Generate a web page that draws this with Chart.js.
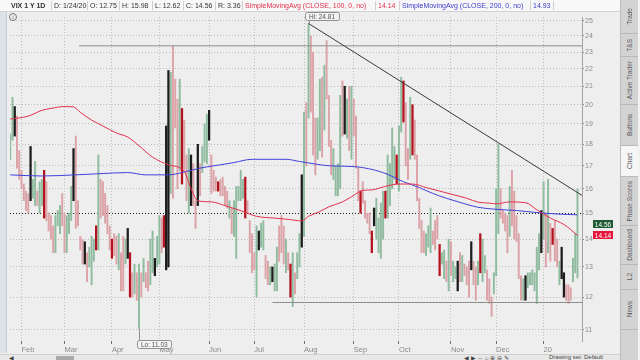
<!DOCTYPE html>
<html>
<head>
<meta charset="utf-8">
<script src="https://cdn.jsdelivr.net/npm/chart.js@4.4.1/dist/chart.umd.min.js"></script>
<style>
  html, body { margin: 0; padding: 0; background: #eeeeee; }
  body { width: 640px; height: 360px; overflow: hidden; position: relative; font-family: "Liberation Sans", Arial, sans-serif; }
  #chart { position: absolute; left: 0; top: 0; background: #eeeeee; }
  #header { position: absolute; left: 0; top: 0; width: 620px; height: 11px; background: #f8f8f8; border-bottom: 1px solid #d2d2d2; font-size: 7px; color: #333; }
  #header span { position: absolute; top: 2px; white-space: nowrap; line-height: 8px; }
  #header i { position: absolute; top: 1px; width: 1px; height: 9px; background: #d0d0d0; }
  #leftbar { position: absolute; left: 0; top: 12px; width: 6px; height: 341px; background: #dde2e8; border-right: 1px solid #c9ced4; }
  #info { position: absolute; left: 9px; top: 13px; width: 6px; height: 6px; border: 1px solid #777; border-radius: 50%; font-size: 5px; line-height: 6px; text-align: center; color: #555; }
  #side { position: absolute; left: 620px; top: 0; width: 17px; height: 360px; background: #d3d3d3; border-left: 1px solid #bcbcbc; }
  #edge { position: absolute; left: 638px; top: 0; width: 2px; height: 360px; background: #f2f2f2; }
  .tab { position: absolute; left: 0; width: 17px; border-bottom: 1px solid #b9b9b9; display: flex; align-items: center; justify-content: center; }
  .tab span { writing-mode: vertical-rl; transform: rotate(180deg); font-size: 6.5px; color: #5a5a5a; white-space: nowrap; }
  .tab.on { background: #f6f6f6; }
  #bottom { position: absolute; left: 0; top: 354px; width: 620px; height: 6px; background: #e8e8e8; border-top: 1px solid #d0d0d0; font-size: 6px; color: #444; }
  #bottom span { position: absolute; top: -1px; white-space: nowrap; }
  #thumb { position: absolute; left: 56px; top: 1px; width: 18px; height: 4px; background: #a9a9a9; }
</style>
</head>
<body>
<canvas id="chart" width="620" height="360"></canvas>
<div id="leftbar"></div>
<div id="header">
  <span style="left:11px;font-weight:bold">VIX 1 Y 1D</span><i style="left:51px"></i>
  <span style="left:54px">D: 1/24/20</span><i style="left:87px"></i>
  <span style="left:90px">O: 12.75</span><i style="left:119px"></i>
  <span style="left:122px">H: 15.98</span><i style="left:152px"></i>
  <span style="left:155px">L: 12.62</span><i style="left:183px"></i>
  <span style="left:186px">C: 14.56</span><i style="left:215px"></i>
  <span style="left:218px">R: 3.36</span><i style="left:242px"></i>
  <span style="left:245px;color:#e0304a">SimpleMovingAvg (CLOSE, 100, 0, no)</span><i style="left:375px"></i>
  <span style="left:378px;color:#e0304a">14.14</span><i style="left:399px"></i>
  <span style="left:402px;color:#3c3cd0">SimpleMovingAvg (CLOSE, 200, 0, no)</span><i style="left:530px"></i>
  <span style="left:533px;color:#3c3cd0">14.93</span><i style="left:553px"></i>
</div>
<div id="info">i</div>
<div id="side">
  <div class="tab" style="top:0;height:33px"><span>Trade</span></div>
  <div class="tab" style="top:34px;height:22px"><span>T&amp;S</span></div>
  <div class="tab" style="top:57px;height:47px"><span>Active Trader</span></div>
  <div class="tab" style="top:105px;height:40px"><span>Buttons</span></div>
  <div class="tab on" style="top:146px;height:30px"><span>Chart</span></div>
  <div class="tab" style="top:177px;height:48px"><span>Phase Scores</span></div>
  <div class="tab" style="top:226px;height:38px"><span>Dashboard</span></div>
  <div class="tab" style="top:265px;height:24px"><span>L2</span></div>
  <div class="tab" style="top:290px;height:39px"><span>News</span></div>
</div>
<div id="edge"></div>
<div id="bottom">
  <span style="left:9px">&#9664;</span>
  <div id="thumb"></div>
  <span style="left:464px">&#9664; &#9654; &#8660; &#8962; &#8853; &#8854; &#9998;</span>
  <span style="left:549px">Drawing set: Default</span>
</div>
<script>
// VIX daily bars, 25 Jan 2019 .. 24 Jan 2020 (index = trading day)
const monthIdx = [5, 24, 45, 66, 88, 108, 130, 152, 172, 195, 215, 236];
const monthLabels = ["Feb", "Mar", "Apr", "May", "Jun", "Jul", "Aug", "Sep", "Oct", "Nov", "Dec", "20"];
const yTicks = [11, 12, 13, 14, 15, 16, 17, 18, 19, 20, 21, 22, 23, 24, 25];

const lows = [
  17.3, 18.2, 18.4, 16.9, 16.4, 16.0, 15.5, 15.1, 15.0, 15.5,
  15.6, 15.3, 15.3, 15.0, 15.3, 14.8, 14.7, 14.3, 14.0, 13.5,
  13.5, 14.5, 14.2, 14.5, 13.5, 13.5, 14.2, 14.7, 15.5, 14.4,
  14.5, 13.6, 13.1, 13.1, 12.5, 13.0, 12.4, 13.2, 13.6, 13.6,
  14.8, 14.9, 14.6, 14.2, 13.6, 13.3, 13.4, 13.1, 12.9, 12.2,
  12.2, 13.1, 13.3, 12.0, 12.0, 12.1, 11.9, 11.03, 12.0, 12.5,
  12.3, 12.2, 12.4, 12.8, 12.7, 13.0, 13.1, 13.5, 13.7, 12.9,
  13.0, 15.8, 15.6, 18.8, 16.0, 16.8, 16.2, 16.8, 15.5, 15.0,
  15.3, 15.3, 14.4, 15.3, 15.7, 16.7, 17.2, 17.1, 18.2, 15.8,
  15.9, 15.9, 15.9, 15.7, 15.7, 15.3, 15.2, 14.8, 14.2, 14.1,
  13.3, 15.5, 15.5, 15.6, 14.8, 15.0, 13.5, 12.8, 12.9, 12.0,
  13.6, 13.7, 13.6, 12.6, 12.4, 12.4, 12.5, 12.2, 12.2, 13.2,
  13.5, 13.1, 12.8, 12.9, 12.0, 11.7, 12.1, 12.6, 13.0, 13.7,
  14.1, 17.0, 19.3, 19.6, 17.5, 16.6, 17.3, 17.7, 17.4, 18.7,
  20.3, 17.9, 16.6, 16.4, 15.7, 15.7, 16.0, 18.4, 18.5, 18.3,
  17.7, 17.3, 18.4, 16.9, 15.5, 15.0, 15.4, 14.8, 14.6, 14.2,
  13.5, 14.5, 14.0, 13.5, 13.3, 14.0, 14.8, 14.8, 15.3, 16.0,
  16.4, 16.2, 15.9, 18.6, 19.1, 17.0, 16.4, 17.3, 17.5, 17.3,
  15.5, 14.4, 13.5, 13.5, 13.4, 13.7, 13.5, 13.8, 13.6, 14.0,
  12.7, 13.1, 12.6, 12.5, 12.2, 12.7, 12.5, 12.6, 12.2, 12.5,
  12.5, 12.7, 12.4, 12.0, 12.9, 12.4, 11.9, 12.4, 12.8, 12.5,
  12.8, 11.9, 11.8, 11.4, 12.1, 12.7, 14.2, 14.8, 14.6, 14.3,
  13.5, 14.1, 14.5, 14.0, 13.9, 12.6, 11.9, 11.9, 11.9, 12.3,
  12.4, 12.4, 12.2, 11.8, 12.9, 13.5, 14.0, 13.0, 13.5, 13.2,
  13.8, 13.2, 13.0, 12.4, 12.6, 12.0, 11.9, 11.8, 11.9, 12.5,
  12.8, 12.62
];
const highs = [
  18.5, 20.4, 19.9, 19.4, 17.7, 16.8, 16.2, 15.9, 15.8, 17.9,
  16.4, 17.2, 15.9, 16.3, 16.4, 16.8, 16.3, 15.0, 14.9, 14.5,
  14.9, 15.1, 15.3, 15.8, 15.0, 14.9, 15.0, 16.1, 17.8, 18.4,
  15.5, 14.1, 14.0, 13.9, 13.5, 13.7, 14.1, 14.0, 14.5, 17.5,
  16.4, 16.3, 15.8, 15.3, 14.5, 14.0, 14.2, 14.1, 14.2, 13.5,
  14.1, 14.0, 14.4, 13.5, 12.8, 13.1, 12.8, 13.1, 12.8, 13.3,
  12.8, 13.2, 14.0, 14.3, 13.3, 14.1, 14.9, 14.8, 14.9, 18.9,
  21.9, 21.8, 23.38, 21.4, 20.3, 21.4, 19.8, 19.2, 17.5, 17.8,
  17.5, 17.1, 15.5, 18.0, 17.1, 17.9, 19.0, 19.5, 19.7, 17.5,
  16.8, 16.5, 16.3, 16.4, 16.5, 16.1, 15.9, 15.5, 15.2, 15.5,
  16.1, 16.1, 16.8, 16.4, 16.5, 15.5, 14.7, 14.2, 13.5, 14.5,
  14.3, 14.6, 14.7, 13.4, 13.2, 13.0, 13.0, 13.1, 13.7, 14.5,
  14.9, 14.5, 14.0, 13.5, 13.1, 13.5, 12.8, 13.5, 14.2, 16.6,
  19.6, 20.1, 24.81, 24.0, 23.0, 19.3, 19.3, 21.4, 21.5, 22.2,
  23.7, 20.5, 18.2, 17.8, 17.0, 17.1, 20.5, 21.3, 21.0, 20.3,
  21.0, 21.0, 20.3, 19.4, 16.9, 15.9, 16.3, 15.5, 15.0, 15.0,
  14.3, 15.2, 15.6, 14.8, 15.4, 15.9, 15.9, 17.5, 17.1, 18.8,
  17.9, 17.5, 18.9, 21.5, 21.3, 20.1, 17.8, 20.4, 20.0, 19.2,
  17.5, 15.6, 14.7, 14.3, 14.2, 14.5, 15.2, 14.3, 14.7, 14.9,
  13.8, 13.5, 13.6, 13.2, 14.0, 13.9, 13.2, 13.0, 13.2, 13.5,
  13.4, 13.1, 13.0, 13.2, 13.9, 13.2, 13.0, 13.2, 14.2, 14.0,
  13.4, 12.9, 12.6, 12.0, 12.8, 16.0, 18.0, 16.0, 15.1, 15.0,
  14.9, 16.1, 16.8, 15.9, 14.9, 14.2, 12.7, 12.6, 12.7, 12.8,
  12.8, 12.9, 12.8, 13.7, 14.2, 15.1, 16.3, 15.0, 16.4, 14.6,
  14.4, 14.7, 14.0, 13.2, 13.7, 12.8, 12.4, 12.4, 12.3, 13.3,
  14.2, 15.98
];
// g = light green, r = light red, k = black, d = dark red
const barTones = (
  "ggkrr rrrrk ggrgg drrrr gggrr gggkr rrrkr gggdg rrrrr drrgr " +
  "rgkdr grgrg rrggk ggrdk kgrrr gdrrg krrkr gggkr rrdrr rrgrg " +
  "ggggd rrrrg kggrr gkggr rrgrd grggk grgrr rggrg rrrgg ggrkg " +
  "rgrrr drrrr dkggg gdggg gdggd rrgdr rrrrg ggrrr dggrg rggkr " +
  "grrrk rrgdg grrrg ggrrr rgrrr rrgkg ggggg kgrgr drrgk krrrg gg"
).replace(/ /g, "");

const sma100Idx = [0, 8, 14, 18, 24, 28, 31, 36, 41, 47, 52, 57, 63, 70, 77, 80, 83, 89, 95, 103,
  109, 117, 123, 129, 132, 137, 141, 147, 151, 156, 160, 166, 172, 178, 184, 190, 196, 202, 207,
  212, 215, 221, 228, 233, 239, 245, 251];
const sma100 = [19.25, 19.4, 19.7, 19.8, 19.9, 19.88, 19.6, 19.2, 18.9, 18.55, 18.35, 17.93, 17.4,
  17.05, 16.75, 16.0, 15.5, 15.45, 15.3, 15.06, 14.87, 14.8, 14.75, 14.69, 14.87, 15.06, 15.25,
  15.45, 15.66, 15.93, 15.95, 16.1, 16.2, 16.2, 16.05, 15.9, 15.75, 15.6, 15.44, 15.4, 15.37,
  15.45, 15.42, 15.13, 14.8, 14.55, 14.14];
const sma200Idx = [0, 14, 29, 39, 52, 60, 70, 78, 84, 93, 99, 107, 122, 128, 142, 152, 165, 174,
  181, 187, 193, 199, 207, 215, 224, 233, 242, 251];
const sma200 = [16.6, 16.55, 16.6, 16.65, 16.7, 16.6, 16.6, 16.75, 16.9, 17.05, 17.15, 17.3, 17.3,
  17.2, 17.0, 16.97, 16.7, 16.3, 16.05, 15.8, 15.6, 15.43, 15.23, 15.15, 15.1, 15.02, 14.96, 14.93];

const lastClose = 14.56;
const hiLevel = 23.38, hiLevelFrom = 30.5;
const loLevel = 11.83, loLevelFrom = 116;
const trendIdx = [132, 253];
const trendVals = [24.81, 15.72];
const xMax = 253;

const toneColors = { g: "#8fbb9f", r: "#dba3a7", k: "#1c1c1c", d: "#b5121f" };
const FONT = '"Liberation Sans", Arial, sans-serif';
Chart.defaults.font.family = FONT;

const lightBars = [];
const darkBars = [];
lows.forEach((lo, i) => {
  const pt = { x: i, y: [lo, highs[i]] };
  if (barTones[i] === "g" || barTones[i] === "r") lightBars.push(pt);
  else darkBars.push(pt);
});

const toPoints = (xs, ys) => xs.map((x, k) => ({ x: x, y: ys[k] }));

function drawTag(ctx, text, left, top, px, py, below) {
  const w = Math.ceil(ctx.measureText(text).width) + 7;
  const h = 8;
  ctx.strokeStyle = "#8f8f8f";
  ctx.lineWidth = 1;
  ctx.beginPath();
  if (below) { ctx.moveTo(px + 0.5, top); ctx.lineTo(px + 0.5, py); }
  else { ctx.moveTo(px + 0.5, top + h); ctx.lineTo(px + 0.5, py); }
  ctx.stroke();
  ctx.fillStyle = "#f3f3f3";
  ctx.beginPath();
  ctx.roundRect(left + 0.5, top + 0.5, w, h, 2);
  ctx.fill();
  ctx.stroke();
  ctx.fillStyle = "#555";
  ctx.textAlign = "left";
  ctx.fillText(text, left + 4, top + 4.8);
}

function priceTag(ctx, text, py, color) {
  ctx.fillStyle = color;
  ctx.fillRect(593, Math.round(py - 4), 20, 8);
  ctx.fillStyle = "#fff";
  ctx.textAlign = "center";
  ctx.fillText(text, 603, py + 0.5);
}

const markers = {
  id: "markers",
  afterDraw(chart) {
    const { ctx, scales: { x, y } } = chart;
    const hiI = highs.indexOf(Math.max(...highs));
    const loI = lows.indexOf(Math.min(...lows));
    ctx.save();
    ctx.font = "6.5px " + FONT;
    ctx.textBaseline = "middle";
    const hx = Math.round(x.getPixelForValue(hiI));
    drawTag(ctx, "Hi: " + highs[hiI].toFixed(2), hx - 4, 12, hx, y.getPixelForValue(highs[hiI]), false);
    const lx = Math.round(x.getPixelForValue(loI));
    drawTag(ctx, "Lo: " + lows[loI].toFixed(2), lx - 2, 340, lx, y.getPixelForValue(lows[loI]), true);
    priceTag(ctx, lastClose.toFixed(2), y.getPixelForValue(lastClose), "#1e5a34");
    const lastSma = sma100[sma100.length - 1];
    priceTag(ctx, lastSma.toFixed(2), y.getPixelForValue(lastSma), "#e5163a");
    ctx.restore();
  }
};

new Chart(document.getElementById("chart"), {
  type: "bar",
  data: {
    datasets: [
      { type: "line", data: toPoints(trendIdx, trendVals), borderColor: "#3a3a3a", borderWidth: 1, pointRadius: 0, order: 0 },
      { type: "line", data: toPoints(sma100Idx, sma100), borderColor: "#e0304a", borderWidth: 1, pointRadius: 0, cubicInterpolationMode: "monotone", order: 0 },
      { type: "line", data: toPoints(sma200Idx, sma200), borderColor: "#4040dc", borderWidth: 1, pointRadius: 0, cubicInterpolationMode: "monotone", order: 0 },
      { type: "line", data: [{ x: hiLevelFrom, y: hiLevel }, { x: xMax, y: hiLevel }], borderColor: "#8c8c8c", borderWidth: 1, pointRadius: 0, order: 0 },
      { type: "line", data: [{ x: loLevelFrom, y: loLevel }, { x: xMax, y: loLevel }], borderColor: "#8c8c8c", borderWidth: 1, pointRadius: 0, order: 0 },
      { data: darkBars, backgroundColor: c => c.raw ? toneColors[barTones[c.raw.x]] : "#111", barThickness: 1.6, grouped: false, order: 1 },
      { data: lightBars, backgroundColor: c => c.raw ? toneColors[barTones[c.raw.x]] : "#888", barThickness: 1.3, grouped: false, order: 2 }
    ]
  },
  options: {
    responsive: false,
    animation: false,
    devicePixelRatio: 1,
    events: [],
    layout: { padding: { left: 10, top: 17, right: 0, bottom: 0 } },
    plugins: { legend: { display: false }, tooltip: { enabled: false } },
    scales: {
      x: {
        type: "linear",
        min: -0.1,
        max: xMax,
        offset: false,
        afterBuildTicks: s => { s.ticks = monthIdx.map(v => ({ value: v })); },
        afterFit: s => { s.height = 19; },
        ticks: {
          autoSkip: false, maxRotation: 0, align: "start", padding: 1,
          color: "#8a8a8a", font: { size: 7.5 },
          callback: v => monthLabels[monthIdx.indexOf(v)]
        },
        grid: { color: "#bdbdbd", offset: false, tickLength: 3, tickColor: "#6f6f6f" },
        border: { display: false, dash: [1, 2] }
      },
      y: {
        type: "logarithmic",
        position: "right",
        min: 10.68,
        max: 25.24,
        beginAtZero: false,
        afterBuildTicks: s => { s.ticks = yTicks.map(v => ({ value: v })); },
        afterFit: s => { s.width = 38; },
        ticks: { color: "#8a8a8a", font: { size: 7 }, padding: 1, callback: v => String(v) },
        grid: {
          color: c => (c.tick && c.tick.value === 15 ? "#1c1c1c" : "#bdbdbd"),
          tickLength: 2, tickColor: "#8a8a8a"
        },
        border: { display: true, color: "#a3a3a3", dash: [1, 2] }
      }
    }
  },
  plugins: [markers]
});
</script>
</body>
</html>
